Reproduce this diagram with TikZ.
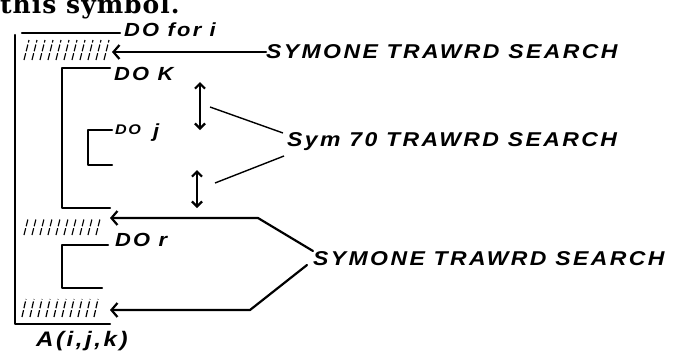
\documentclass[tikz,border=0pt]{standalone}
\usepackage{fontspec}
\usetikzlibrary{arrows.meta}
\newfontfamily\titlefont[LetterSpace=4]{DejaVu Serif}
\newfontfamily\hand[FakeStretch=1.15,LetterSpace=12]{Liberation Sans}
\begin{document}
\begin{tikzpicture}[x=1pt,y=-1pt,
  ink/.style={line width=2.2pt, line cap=round, line join=round},
  hand/.style={font=\hand\bfseries\itshape\fontsize{20}{20}\selectfont, inner sep=0pt, anchor=west},
  smallhand/.style={font=\hand\bfseries\itshape\fontsize{19}{19}\selectfont, inner sep=0pt, anchor=west},
  tip/.style={-{Straight Barb[length=6pt,width=14pt,line width=2.2pt]}},
  twotips/.style={{Straight Barb[length=5pt,width=10pt,line width=2.2pt]}-{Straight Barb[length=5pt,width=10pt,line width=2.2pt]}},
  hatchline/.style={line width=1.2pt, dash pattern=on 7pt off 2pt}]
\useasboundingbox (0,0) rectangle (675,354);

% heading line of the page
\node[anchor=base west, inner sep=0pt, font=\titlefont\bfseries\fontsize{25}{25}\selectfont] (title) at (0,13) {this symbol.};

% outer loop: DO for i
\draw[ink] (22,33) -- (120,33);
\draw[ink] (15,35) -- (15,324) -- (110,324);
\foreach \x in {24,32,...,104} \draw[hatchline] (\x,60) -- (\x+5,40);
\node[smallhand] (doi) at (124,30) {DO for i};

% loop DO K
\draw[ink] (110,68) -- (62,68) -- (62,208) -- (110,208);
\node[smallhand] (dok) at (114,74) {DO K};

% loop DO j
\draw[ink] (112,130) -- (88,130) -- (88,165) -- (112,165);
\node[smallhand] (doj) at (115,133) {\raisebox{3pt}{\fontsize{14}{14}\selectfont DO}\hspace{12pt}j};

% loop DO r
\foreach \x in {24,32,...,100} \draw[hatchline] (\x,235) -- (\x+4,219);
\draw[ink] (108,245) -- (62,245) -- (62,288) -- (102,288);
\node[smallhand] (dor) at (115,240) {DO r};
\foreach \x in {22,30,...,96} \draw[hatchline] (\x,317) -- (\x+4,299);

% index label
\node[smallhand, font=\hand\bfseries\itshape\fontsize{21}{21}\selectfont] (aijk) at (36,341) {A(i,j,k)};

% first comment and its arrow
\node[hand] (sym1) at (266,52) {SYMONE TRAWRD SEARCH};
\coordinate (h1) at (112,52);
\draw[ink,tip] (sym1.west) -- (h1);

% middle comment with its two double arrows
\node[hand] (sym2) at (287,142) {Sym 70 TRAWRD SEARCH};
\coordinate (u1) at (200,82);  \coordinate (u2) at (200,130);
\coordinate (v1) at (197,170); \coordinate (v2) at (197,208);
\draw[ink,twotips] (u1) -- (u2);
\draw[ink,twotips] (v1) -- (v2);
\coordinate (s2a) at (283,133); \coordinate (s2b) at (284,156);
\coordinate (d1) at (210,107);  \coordinate (d2) at (215,183);
\draw[line width=1.4pt] (s2a) -- (d1);
\draw[line width=1.4pt] (s2b) -- (d2);

% last comment and its two arrows
\node[hand] (sym3) at (313,259) {SYMONE TRAWRD SEARCH};
\coordinate (h2) at (110,218);
\coordinate (h3) at (110,310);
\draw[ink,tip] (sym3.west) ++(0,-8) -- (258,218) -- (h2);
\draw[ink,tip] (sym3.west) ++(-6,6) -- (250,310) -- (h3);
\end{tikzpicture}
\end{document}
